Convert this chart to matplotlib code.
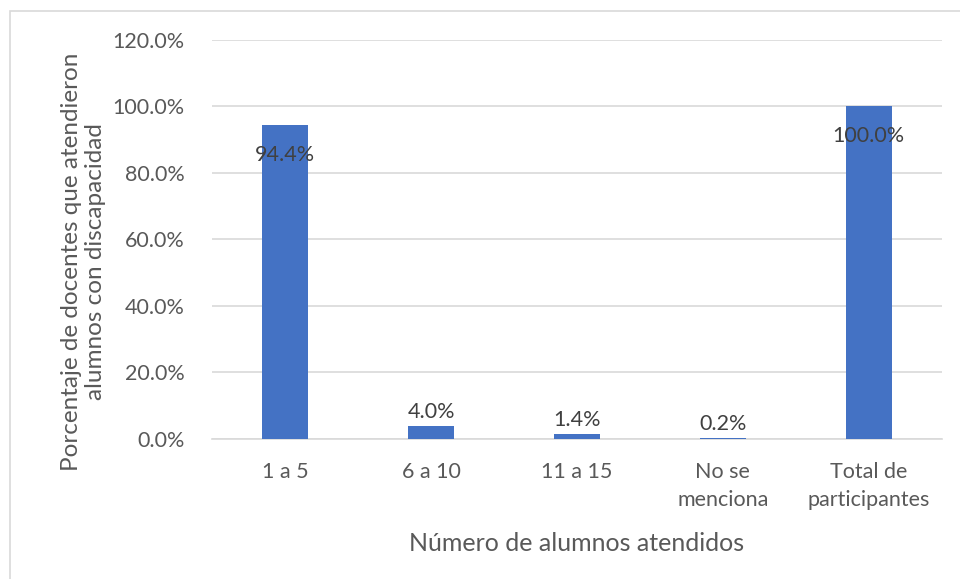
import matplotlib.pyplot as plt
import numpy as np
from matplotlib.patches import Rectangle

plt.rcParams['font.family'] = ['Lato', 'DejaVu Sans']

categorias = ['1 a 5', '6 a 10', '11 a 15', 'No se\nmenciona', 'Total de\nparticipantes']
porcentajes = [94.4, 4.0, 1.4, 0.2, 100.0]
etiquetas_y = [0, 20, 40, 60, 80, 100, 120]

gris_texto = '#595959'
azul = '#4472C4'

fig = plt.figure(figsize=(9.6, 5.79), dpi=100)
ax = fig.add_axes([0.221, 0.242, 0.76, 0.689])

x = np.arange(len(categorias))
barras = ax.bar(x, porcentajes, width=0.315, color=azul, zorder=3)

# etiquetas de datos: dentro de la barra si es alta, encima si es baja
for xi, v in zip(x, porcentajes):
    if v > 50:
        ax.text(xi, v - 6, f'{v:.1f}%', ha='center', va='top', fontsize=15.5, color='#404040', zorder=4)
    else:
        ax.text(xi, v + 1.2, f'{v:.1f}%', ha='center', va='bottom', fontsize=15.5, color='#404040', zorder=4)

ax.set_xlim(-0.5, len(categorias) - 0.5)
ax.set_ylim(0, 120)
ax.set_yticks(etiquetas_y)
ax.set_yticklabels([f'{t:.1f}%' for t in etiquetas_y])
ax.set_xticks(x)
ax.set_xticklabels(categorias, linespacing=1.45)

ax.grid(axis='y', color='#D9D9D9', linewidth=1.2, zorder=0)
for s in ['top', 'right', 'left']:
    ax.spines[s].set_visible(False)
ax.spines['bottom'].set_color('#D9D9D9')
ax.spines['bottom'].set_linewidth(1.2)
ax.tick_params(axis='both', length=0, labelsize=15.5, colors=gris_texto)
ax.tick_params(axis='y', pad=20)
ax.tick_params(axis='x', pad=17)

ax.set_xlabel('Número de alumnos atendidos', fontsize=18, color=gris_texto, labelpad=16)
ax.set_ylabel('Porcentaje de docentes que atendieron\nalumnos con discapacidad', fontsize=17.5,
              color=gris_texto)
ax.yaxis.set_label_coords(-0.145, 0.444)

# marco del gráfico
fig.patches.append(Rectangle((10 / 960, -0.01), 1.0, 1 - 11 / 579 + 0.01, transform=fig.transFigure,
                             fill=False, edgecolor='#D9D9D9', linewidth=1.2))

fig.savefig('out.png', dpi=100)
